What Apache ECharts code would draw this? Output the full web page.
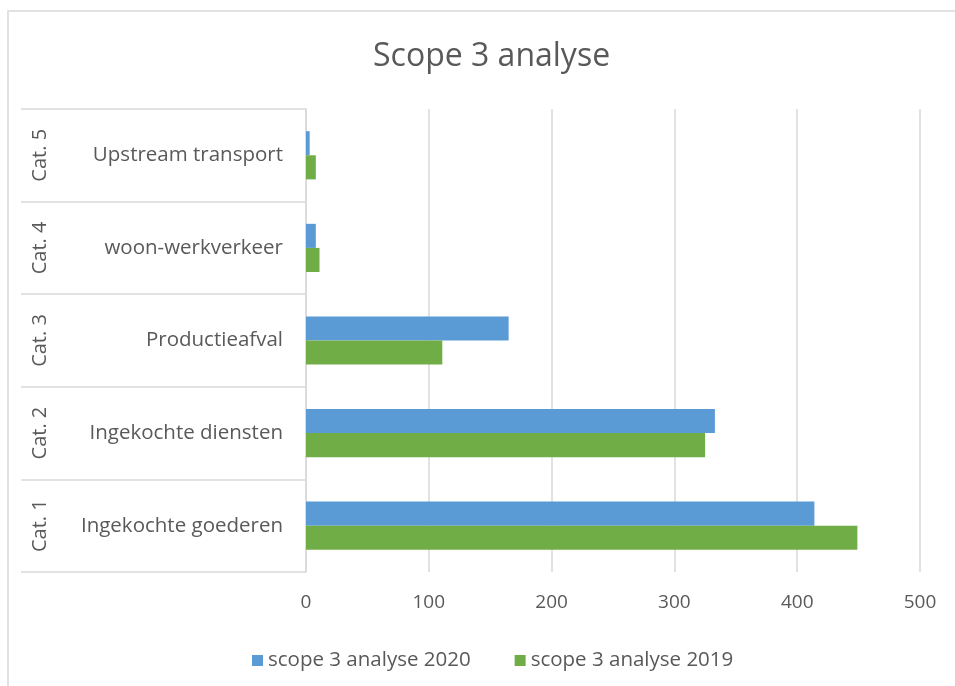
<!DOCTYPE html>
<html>
<head>
<meta charset="utf-8">
<script src="https://cdn.jsdelivr.net/npm/echarts@6/dist/echarts.min.js"></script>
<style>
html,body{margin:0;padding:0;background:#fff;}
#chart{width:955px;height:686px;}
</style>
</head>
<body>
<div id="chart"></div>
<script>
// bottom to top, like the picture
const categories=[
    "Ingekochte goederen",
    "Ingekochte diensten",
    "Productieafval",
    "woon-werkverkeer",
    "Upstream transport"
];
const groups=["Cat. 1","Cat. 2","Cat. 3","Cat. 4","Cat. 5"];
const values2020=[414,333,165,8,3];
const values2019=[449,325,111,11,8];
const xTicks={min:0,max:500,interval:100};

const textColor="#595959";
const lineColor="#d9d9d9";
const font="'Open Sans', sans-serif";

const chart=echarts.init(document.getElementById("chart"));

chart.setOption({
    animation:false,
    backgroundColor:"#fff",
    title:{
        text:"Scope 3 analyse",
        left:368,
        top:36,
        textStyle:{
            fontFamily:font,
            fontSize:32,
            fontWeight:"normal",
            color:textColor
        }
    },
    graphic:[
        {
            type:"rect",
            shape:{x:8,y:11,width:1000,height:1000},
            style:{fill:"none",stroke:lineColor,lineWidth:1.5},
            silent:true
        }
    ],
    legend:{
        left:247,
        top:645,
        icon:"rect",
        itemWidth:11,
        itemHeight:11,
        itemGap:44,
        textStyle:{fontFamily:font,fontSize:20.5,color:textColor}
    },
    grid:{left:306,right:35,top:109,bottom:114},
    xAxis:{
        type:"value",
        min:xTicks.min,
        max:xTicks.max,
        interval:xTicks.interval,
        axisLine:{show:false},
        axisTick:{show:false},
        axisLabel:{
            margin:21,
            fontFamily:font,
            fontSize:19,
            color:textColor
        },
        splitLine:{lineStyle:{color:lineColor,width:1.5}}
    },
    yAxis:[
        {
            type:"category",
            data:categories,
            position:"left",
            axisLine:{show:false},
            axisTick:{show:false},
            axisLabel:{
                margin:23,
                fontFamily:font,
                fontSize:20.5,
                color:textColor
            }
        },
        {
            type:"category",
            data:groups,
            position:"left",
            axisLine:{lineStyle:{color:lineColor,width:1.5}},
            axisTick:{
                show:true,
                length:285,
                lineStyle:{color:lineColor,width:1.5}
            },
            axisLabel:{
                rotate:90,
                margin:256,
                fontFamily:font,
                fontSize:20,
                color:textColor
            }
        }
    ],
    series:[
        {
            name:"scope 3 analyse 2020",
            type:"bar",
            data:values2020,
            barGap:"0%",
            barCategoryGap:"48%",
            itemStyle:{color:"#5b9bd5"}
        },
        {
            name:"scope 3 analyse 2019",
            type:"bar",
            data:values2019,
            barGap:"0%",
            barCategoryGap:"48%",
            itemStyle:{color:"#70ad47"}
        }
    ]
});

window.addEventListener("resize",()=>chart.resize());
</script>
</body>
</html>
